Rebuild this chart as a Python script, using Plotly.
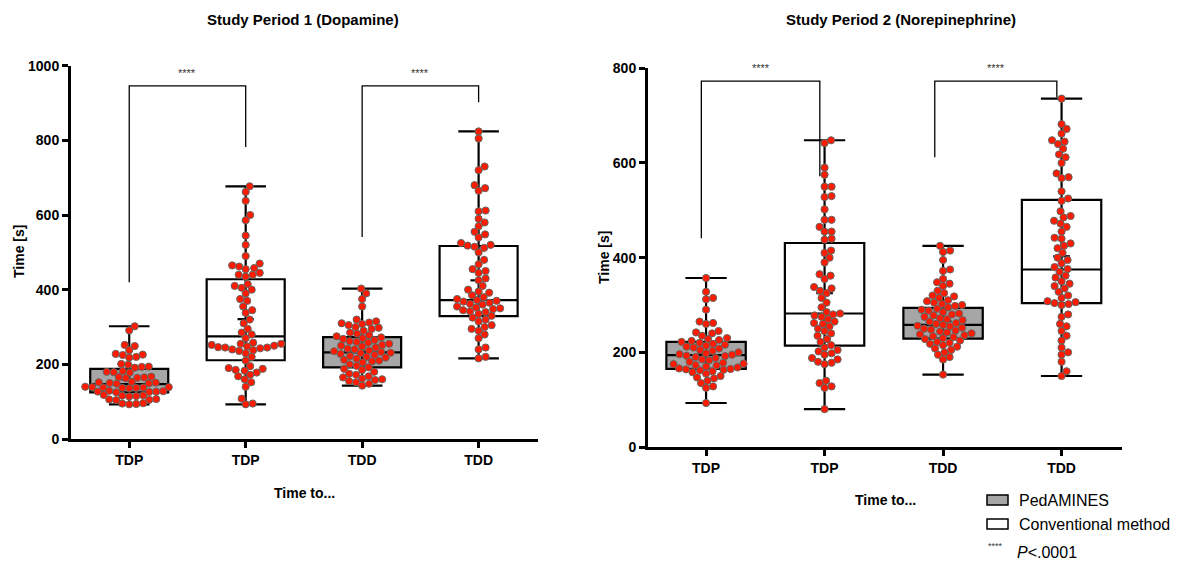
import plotly.graph_objects as go

W, H = 1196, 563

categories = ["TDP", "TDP", "TDD", "TDD"]
methods = ["PedAMINES", "Conventional method", "PedAMINES", "Conventional method"]
panel_titles = ["Study Period 1 (Dopamine)", "Study Period 2 (Norepinephrine)"]

# ---- Study period 1 (Dopamine) box statistics (min-max whiskers) ----
p1_min = [93, 93, 143, 216]
p1_q1 = [125, 211, 192, 329]
p1_med = [147, 275, 232, 372]
p1_q3 = [188, 428, 273, 517]
p1_max = [302, 677, 403, 824]
p1_mean = [160, 321, 234, 425]

# ---- Study period 2 (Norepinephrine) box statistics ----
p2_min = [93, 80, 153, 150]
p2_q1 = [165, 214, 229, 304]
p2_med = [194, 282, 258, 375]
p2_q3 = [222, 431, 294, 522]
p2_max = [357, 648, 425, 736]
p2_mean = [198, 325, 266, 403]

p1_tdp_ped = [302, 291, 252, 249, 238, 228, 226, 225, 220, 218, 201, 199, 194, 193, 191,
              182, 180, 179, 178, 167, 166, 165, 164, 163, 153, 152, 151, 150, 149, 148,
              140, 139, 139, 138, 138, 137, 137, 136, 129, 128, 127, 127, 126, 125, 118,
              117, 116, 115, 114, 107, 106, 105, 104, 96, 95, 94, 93]
p1_tdp_conv = [677, 662, 638, 600, 586, 545, 520, 490, 470, 465, 462, 458, 455, 445, 440,
               440, 435, 415, 410, 405, 400, 390, 375, 370, 355, 345, 338, 320, 310, 295,
               285, 280, 270, 258, 255, 255, 252, 250, 248, 246, 245, 245, 243, 240, 238,
               236, 230, 220, 210, 195, 190, 188, 185, 183, 178, 172, 168, 160, 152, 140,
               108, 95, 93]
p1_tdd_ped = [403, 390, 375, 355, 320, 315, 312, 310, 308, 305, 300, 298, 295, 290, 285,
              282, 278, 275, 272, 270, 268, 265, 262, 260, 258, 255, 252, 250, 248, 245,
              242, 240, 237, 235, 233, 231, 230, 228, 225, 222, 220, 218, 215, 212, 210,
              208, 205, 200, 196, 192, 188, 185, 180, 175, 172, 168, 165, 162, 160, 158,
              155, 152, 148, 143]
p1_tdd_conv = [824, 805, 730, 720, 680, 672, 665, 612, 610, 590, 580, 570, 555, 548, 540,
               525, 520, 518, 515, 512, 500, 480, 468, 455, 450, 445, 430, 425, 410, 400,
               395, 392, 385, 380, 375, 372, 370, 368, 365, 362, 360, 355, 352, 350, 348,
               345, 342, 340, 335, 330, 325, 320, 315, 305, 300, 295, 290, 280, 270, 245,
               240, 220, 216]
p2_tdp_ped = [357, 328, 315, 312, 290, 265, 262, 260, 245, 242, 240, 235, 230, 228, 226,
              224, 222, 220, 218, 216, 214, 212, 210, 208, 205, 203, 200, 198, 196, 195,
              193, 192, 190, 188, 185, 183, 180, 178, 176, 175, 173, 172, 170, 168, 166,
              165, 164, 163, 162, 160, 158, 155, 150, 147, 145, 140, 135, 128, 125, 93]
p2_tdp_conv = [648, 642, 590, 575, 550, 550, 530, 528, 502, 480, 480, 465, 455, 455, 440,
               438, 415, 410, 400, 390, 365, 362, 355, 338, 335, 330, 325, 315, 305, 295,
               285, 282, 280, 278, 275, 270, 265, 262, 260, 255, 250, 245, 240, 235, 228,
               222, 215, 210, 205, 202, 198, 195, 188, 185, 180, 178, 175, 140, 135, 128,
               125, 80]
p2_tdd_ped = [425, 415, 412, 395, 375, 372, 355, 348, 345, 340, 330, 325, 320, 318, 315,
              310, 308, 305, 302, 300, 298, 295, 292, 290, 288, 285, 282, 280, 278, 275,
              272, 270, 268, 265, 262, 260, 258, 256, 255, 252, 250, 248, 246, 244, 242,
              240, 238, 236, 234, 232, 230, 228, 225, 222, 220, 218, 215, 212, 208, 205,
              200, 195, 190, 185, 153]
p2_tdd_conv = [736, 682, 672, 662, 648, 645, 640, 630, 618, 612, 600, 578, 570, 568, 540,
               525, 520, 498, 488, 485, 478, 472, 465, 455, 442, 440, 430, 425, 420, 410,
               400, 395, 388, 380, 376, 370, 362, 358, 350, 345, 340, 335, 328, 320, 315,
               308, 306, 304, 302, 300, 280, 275, 260, 255, 245, 235, 225, 210, 200, 195,
               180, 160, 150]

# significance brackets: [x_left, x_right, top, left-leg bottom, right-leg bottom]
p1_brackets = [[0, 1, 946, 420, 782], [2, 3, 946, 541, 902]]
p2_brackets = [[-0.04, 0.96, 773, 441, 572], [1.93, 2.96, 773, 612, 739]]
star_label = "****"

# ---------------- styling / geometry ----------------
FONT = "Liberation Sans, Arial, Helvetica, sans-serif"
GRAY = "#a6a6a6"
RED = "#ff1a00"

px = lambda x: x / W
py = lambda y: 1 - y / H

panels = [
    dict(x0=71, x1=538, xr=[-0.5, 3.51], y0=439, y1=65.7, yr=[0, 1000],
         stats=(p1_min, p1_q1, p1_med, p1_q3, p1_max, p1_mean),
         pts=[p1_tdp_ped, p1_tdp_conv, p1_tdd_ped, p1_tdd_conv],
         br=p1_brackets, xa="x", ya="y"),
    dict(x0=648, x1=1122, xr=[-0.49, 3.51], y0=447, y1=68.3, yr=[0, 800],
         stats=(p2_min, p2_q1, p2_med, p2_q3, p2_max, p2_mean),
         pts=[p2_tdp_ped, p2_tdp_conv, p2_tdd_ped, p2_tdd_conv],
         br=p2_brackets, xa="x2", ya="y2"),
]


def swarm(vals, pos, ppx, ppy, d=6.8):
    order = sorted(range(len(vals)), key=lambda i: vals[i])
    placed = []
    xs = [pos] * len(vals)
    for i in order:
        yy = vals[i] * ppy
        near = [(a, b) for a, b in placed if abs(b - yy) < d]
        best = 0.0
        k = 0
        while True:
            cands = [0.0] if k == 0 else [k * 0.5, -k * 0.5]
            found = None
            for s in cands:
                if all((s - a) ** 2 + (yy - b) ** 2 >= d * d for a, b in near):
                    found = s
                    break
            if found is not None:
                best = found
                break
            k += 1
        placed.append((best, yy))
        xs[i] = pos + best / ppx
    return xs


fig = go.Figure()
annotations = []

for pi, P in enumerate(panels):
    ppx = (P["x1"] - P["x0"]) / (P["xr"][1] - P["xr"][0])
    ppy = (P["y0"] - P["y1"]) / (P["yr"][1] - P["yr"][0])
    mn, q1, md, q3, mx, mean = P["stats"]
    for i in range(4):
        fill = GRAY if methods[i] == "PedAMINES" else "white"
        fig.add_trace(go.Box(
            x=[i], q1=[q1[i]], median=[md[i]], q3=[q3[i]],
            lowerfence=[mn[i]], upperfence=[mx[i]],
            width=0.67, whiskerwidth=0.52, fillcolor=fill,
            line=dict(color="black", width=2.2), boxpoints=False,
            xaxis=P["xa"], yaxis=P["ya"], showlegend=False, hoverinfo="skip"))
        fig.add_trace(go.Scatter(
            x=[i, i, None, i - 0.07, i + 0.07], y=[q1[i], q3[i], None, mean[i], mean[i]],
            mode="lines", line=dict(color="black", width=2.2),
            xaxis=P["xa"], yaxis=P["ya"], showlegend=False, hoverinfo="skip"))
    for i in range(4):
        vals = P["pts"][i]
        xs = swarm(vals, i, ppx, ppy)
        fig.add_trace(go.Scatter(
            x=xs, y=vals, mode="markers",
            marker=dict(size=7.2, color=RED, line=dict(color="#666666", width=1)),
            xaxis=P["xa"], yaxis=P["ya"], showlegend=False, cliponaxis=False,
            hovertemplate="%{y}<extra></extra>"))
    for xl, xr_, top, bl, brr in P["br"]:
        fig.add_trace(go.Scatter(
            x=[xl, xl, xr_, xr_], y=[bl, top, top, brr], mode="lines",
            line=dict(color="black", width=1.3), cliponaxis=False,
            xaxis=P["xa"], yaxis=P["ya"], showlegend=False, hoverinfo="skip"))
        annotations.append(dict(
            x=(xl + xr_) / 2, y=top, xref=P["xa"], yref=P["ya"], text=star_label,
            showarrow=False, xanchor="center", yanchor="bottom", yshift=5,
            font=dict(family=FONT, size=11, color="#333333")))

axis_common = dict(showline=True, linewidth=3, linecolor="black", ticks="outside",
                   ticklen=6, tickwidth=3, tickcolor="black", showgrid=False,
                   zeroline=False, automargin=False,
                   tickfont=dict(family=FONT, size=14, color="black", weight="bold"))

P1, P2 = panels
fig.update_layout(
    width=W, height=H, margin=dict(l=0, r=0, t=0, b=0, pad=0, autoexpand=False),
    paper_bgcolor="white", plot_bgcolor="white", showlegend=False,
    xaxis=dict(domain=[px(P1["x0"]), px(P1["x1"])], range=P1["xr"], anchor="y",
               tickvals=[0, 1, 2, 3], ticktext=categories, **axis_common),
    yaxis=dict(domain=[py(P1["y0"]), py(P1["y1"])], range=P1["yr"], anchor="x",
               tickvals=[0, 200, 400, 600, 800, 1000], **axis_common),
    xaxis2=dict(domain=[px(P2["x0"]), px(P2["x1"])], range=P2["xr"], anchor="y2",
                tickvals=[0, 1, 2, 3], ticktext=categories, **axis_common),
    yaxis2=dict(domain=[py(P2["y0"]), py(P2["y1"])], range=P2["yr"], anchor="x2",
                tickvals=[0, 200, 400, 600, 800], **axis_common),
)


def note(x, y, text, size, bold=True, xanchor="center", angle=0, color="black"):
    f = dict(family=FONT, size=size, color=color)
    if bold:
        f["weight"] = "bold"
    return dict(x=px(x), y=py(y), xref="paper", yref="paper", text=text,
                showarrow=False, xanchor=xanchor, yanchor="middle",
                textangle=angle, font=f)


annotations += [
    note(303, 20, panel_titles[0], 15),
    note(901, 20, panel_titles[1], 15),
    note(19, 252, "Time [s]", 14, angle=-90),
    note(604, 258, "Time [s]", 14, angle=-90),
    note(304, 493, "Time to...", 14),
    note(885, 500, "Time to...", 14),
    note(1017, 500, methods[0], 16, bold=False, xanchor="left"),
    note(1017, 524, methods[1], 16, bold=False, xanchor="left"),
    note(986, 546, star_label, 9, bold=False, xanchor="left", color="#333333"),
    note(1015, 552, "<i>P</i><.0001", 16, bold=False, xanchor="left"),
]
fig.update_layout(annotations=annotations)

fig.update_layout(shapes=[
    dict(type="rect", xref="paper", yref="paper", x0=px(987), x1=px(1008),
         y0=py(505), y1=py(495), fillcolor=GRAY, line=dict(color="black", width=1.5)),
    dict(type="rect", xref="paper", yref="paper", x0=px(987), x1=px(1008),
         y0=py(529), y1=py(519), fillcolor="white", line=dict(color="black", width=1.5)),
])

# remove the browser's default page margin so the figure sits at the window origin
fig.write_html("out.html", config={"displayModeBar": False},
               post_script="document.body.style.margin='0';")
